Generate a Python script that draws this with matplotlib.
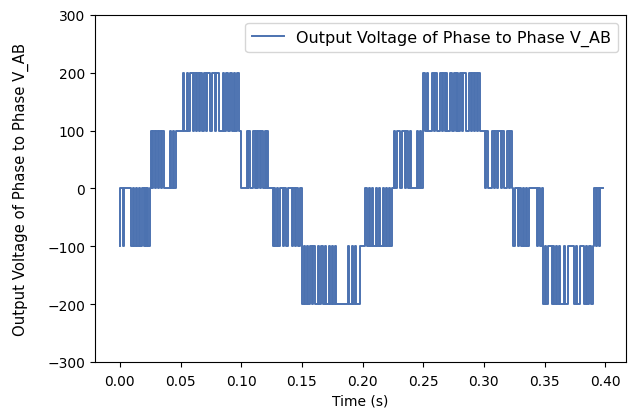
import numpy as np
import matplotlib
matplotlib.use("Agg")
import matplotlib.pyplot as plt

# switching instants (ms) and the level held from each instant until the next one
# one row per switching band
t_ms = [
    # -100 / 0
    0, 0.3, 2.5, 3.5, 9.5, 10.5, 11.5, 13, 14, 15.5, 16.5, 18.5, 19.5, 20.5, 21.5, 22.5, 23.5, 24.5,
    # 0 / 100
    25.5, 26.5, 27.5, 29, 30, 31.5, 32.5, 34, 35, 36, 41, 42, 43.5, 44.5, 46,
    # 100 / 200
    52, 53, 55, 56.5, 58, 60, 61, 62.5, 63.5, 65, 66, 68, 69, 71, 72, 74, 76, 78, 79, 82,
    85, 86, 87.5, 89, 91, 92.5, 94, 95, 96.5, 98,
    # 0 / 100
    99.5, 104.5, 105.5, 106, 107, 110, 111, 112, 113, 114, 115.5, 116.5, 118, 119.5, 120.5, 121, 122,
    # -100 / 0
    126, 127, 128, 129.5, 130.5, 132, 134.5, 135.5, 137, 138.5, 142, 143, 144, 145.5, 146.5, 148.5,
    # -200 / -100
    150, 151.5, 152.5, 154, 155, 157, 158, 159.5, 161, 163, 164, 165.5, 167.5, 169, 170, 172,
    173, 175, 176, 177.5, 178.5, 188, 189, 191, 192, 194, 195, 197.5,
    # -100 / 0
    202, 204, 205, 206.5, 208, 209, 211, 212, 213.5, 214.5, 216.5, 217.5, 219, 220.5, 222, 223,
    # 0 / 100
    224.5, 226, 227, 228.5, 231, 232.5, 235, 236, 237.5, 239, 240, 245, 246, 247.5, 248.5,
    # 100 / 200
    250, 251.5, 253, 254, 257, 258.5, 259.5, 261.5, 264, 265.5, 266.5, 268, 269, 270, 272, 273.5,
    275, 277, 278, 279, 280.5, 282, 283, 285.5, 287.5, 289, 290, 292, 293, 294.5, 295, 297,
    # 0 / 100
    301, 302, 303, 306.5, 308, 309, 311, 312, 314, 315, 316.5, 319, 320.5, 321.5, 323,
    # -100 / 0
    324, 326, 328, 329, 330.5, 332, 333, 334.5, 335.5, 337, 344, 345, 346.5, 348,
    # -200 / -100
    349, 350, 351, 353, 356, 357, 358, 359.5, 360.5, 362, 363, 366, 367, 369, 374.5, 376,
    377, 379, 382.5, 384, 385, 386.5, 388, 390,
    # -100 / 0 (end of record)
    391, 392.5, 393.5, 395, 396, 398,
]
v_ab = [
    -100, 0, -100, 0, -100, 0, -100, 0, -100, 0, -100, 0, -100, 0, -100, 0, -100, 0,
    100, 0, 100, 0, 100, 0, 100, 0, 100, 0, 100, 0, 100, 0, 100,
    200, 100, 200, 100, 200, 100, 200, 100, 200, 100, 200, 100, 200, 100, 200, 100, 200, 100, 200, 100,
    200, 100, 200, 100, 200, 100, 200, 100, 200, 100,
    0, 100, 0, 100, 0, 100, 0, 100, 0, 100, 0, 100, 0, 100, 0, 100, 0,
    -100, 0, -100, 0, -100, 0, -100, 0, -100, 0, -100, 0, -100, 0, -100, 0,
    -200, -100, -200, -100, -200, -100, -200, -100, -200, -100, -200, -100, -200, -100, -200, -100,
    -200, -100, -200, -100, -200, -100, -200, -100, -200, -100, -200, -100,
    0, -100, 0, -100, 0, -100, 0, -100, 0, -100, 0, -100, 0, -100, 0, -100,
    0, 100, 0, 100, 0, 100, 0, 100, 0, 100, 0, 100, 0, 100, 0,
    200, 100, 200, 100, 200, 100, 200, 100, 200, 100, 200, 100, 200, 100, 200, 100,
    200, 100, 200, 100, 200, 100, 200, 100, 200, 100, 200, 100, 200, 100, 200, 100,
    0, 100, 0, 100, 0, 100, 0, 100, 0, 100, 0, 100, 0, 100, 0,
    -100, 0, -100, 0, -100, 0, -100, 0, -100, 0, -100, 0, -100, 0,
    -200, -100, -200, -100, -200, -100, -200, -100, -200, -100, -200, -100, -200, -100, -200, -100,
    -200, -100, -200, -100, -200, -100, -200, -100,
    0, -100, 0, -100, 0, 0,
]

t = np.array(t_ms) / 1000.0
v = np.array(v_ab, dtype=float)

fig = plt.figure(figsize=(6.29, 4.10), dpi=100)
ax = fig.add_axes([0.151, 0.115, 0.844, 0.846])
ax.step(t, v, where='post', color='#4c72b0', lw=1.4,
        label='Output Voltage of Phase to Phase V_AB')
ax.set_ylim(-300, 300)
ax.set_xlim(-0.0205, 0.417)
ax.set_yticks([-300, -200, -100, 0, 100, 200, 300])
ax.set_xticks(np.arange(0, 0.41, 0.05))
ax.tick_params(axis='x', pad=5)
ax.set_xlabel('Time (s)', labelpad=4)
ax.set_ylabel('Output Voltage of Phase to Phase V_AB', fontsize=10.7, labelpad=13)
ax.legend(loc='upper right', fontsize=11.5)

fig.savefig('out.png', dpi=100)
